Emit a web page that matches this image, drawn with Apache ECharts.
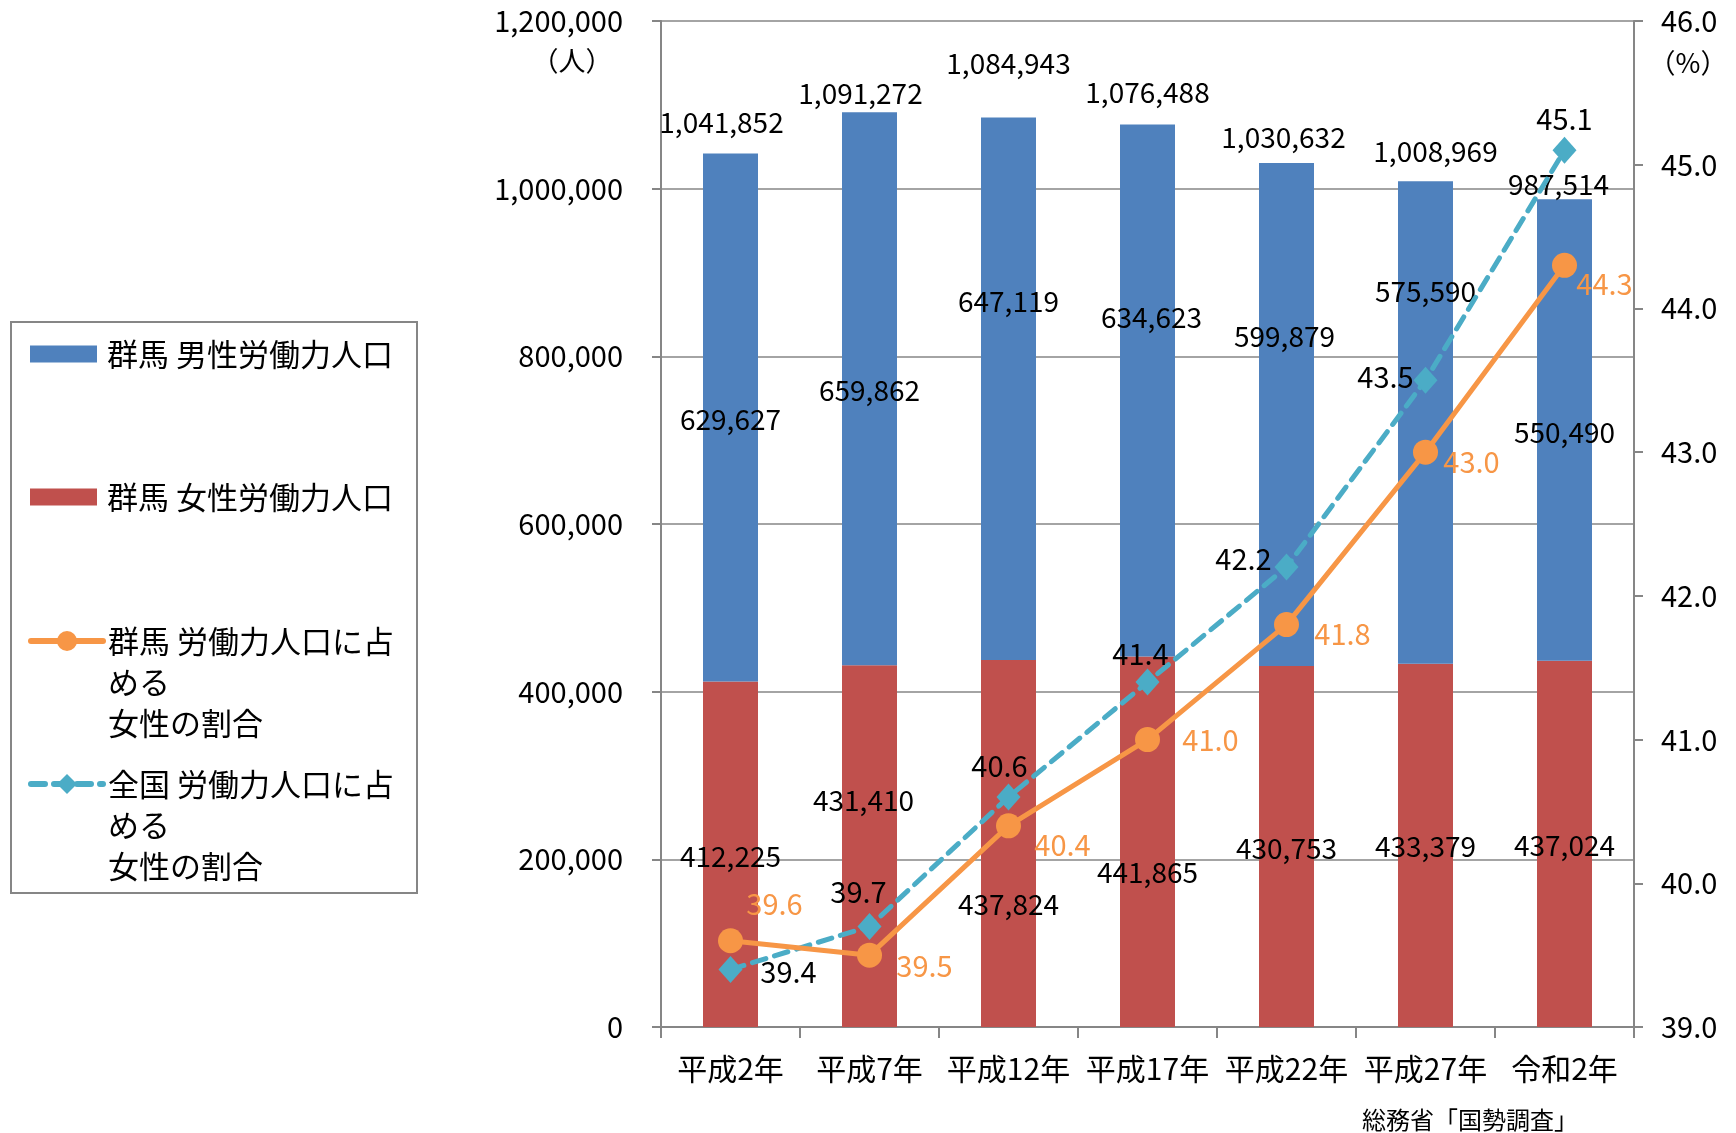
<!DOCTYPE html>
<html>
<head>
<meta charset="utf-8">
<title>群馬 労働力人口</title>
<script src="https://cdn.jsdelivr.net/npm/echarts@6/dist/echarts.min.js"></script>
<style>
    html, body {margin: 0; padding: 0; background: #fff;}
    #main {width: 1736px; height: 1133px;}
</style>
</head>
<body>
<div id="main"></div>
<script>
// データ（総務省「国勢調査」）
let years = ['平成2年', '平成7年', '平成12年', '平成17年', '平成22年', '平成27年', '令和2年'];
let maleData = [629627, 659862, 647119, 634623, 599879, 575590, 550490];
let femaleData = [412225, 431410, 437824, 441865, 430753, 433379, 437024];
let totalData = [1041852, 1091272, 1084943, 1076488, 1030632, 1008969, 987514];
let gunmaRate = [39.6, 39.5, 40.4, 41.0, 41.8, 43.0, 44.3];
let zenkokuRate = [39.4, 39.7, 40.6, 41.4, 42.2, 43.5, 45.1];
let leftTicks = [0, 200000, 400000, 600000, 800000, 1000000, 1200000];
let rightTicks = [39.0, 40.0, 41.0, 42.0, 43.0, 44.0, 45.0, 46.0];

// ラベル位置の微調整（px）
let maleLabelOffset = [[0, 2], [0, 2], [0, -87], [4, -73], [-2, -78], [0, -131], [0, 2]];
let femaleLabelOffset = [[0, 2], [-6, -46], [0, 61], [0, 31], [0, 2], [0, 1], [0, 2]];
let totalLabelOffset = [[-9, -31], [-9, -19], [0, -54], [0, -32], [-3, -26], [10, -30], [-6, -15]];
let gunmaLabelOffset = [[44, -37], [55, 11], [54, 19], [63, 0], [56, 9], [46, 10], [40, 19]];
let zenkokuLabelOffset = [[58, 2], [-11, -34], [-9, -31], [-7, -28], [-43, -8], [-40, -3], [0, -31]];

const FONT = '"Noto Sans CJK JP", "Noto Sans", sans-serif';
const BLUE = '#4F81BD', RED = '#C0504D', ORANGE = '#F79646', TEAL = '#4BACC6', GRAY = '#868686';

const nameMale = '群馬 男性労働力人口';
const nameFemale = '群馬 女性労働力人口';
const nameGunma = '群馬 労働力人口に占める女性の割合';
const nameZenkoku = '全国 労働力人口に占める女性の割合';

function comma(v) {
    return String(v).replace(/\B(?=(\d{3})+(?!\d))/g, ',');
}

function withOffset(arr, offsets) {
    return arr.map(function (v, i) {
        return {value: v, label: {offset: offsets[i]}};
    });
}

// 凡例：アイコンを1行目に合わせるため先頭に空行を入れる
function legendText(name) {
    if (name === nameGunma) return '\n\n群馬 労働力人口に占\nめる\n女性の割合';
    if (name === nameZenkoku) return '\n\n全国 労働力人口に占\nめる\n女性の割合';
    return name;
}

function makeLegend(name, top, isLine) {
    let lg = {
        data: [name],
        left: isLine ? 28 : 30,
        top: top,
        orient: 'vertical',
        padding: 0,
        itemWidth: isLine ? 72 : 67,
        itemHeight: isLine ? 25 : 17,
        selectedMode: false,
        formatter: legendText,
        textStyle: {
            fontFamily: FONT, fontSize: 31, lineHeight: 41, color: '#000',
            padding: [0, 0, 0, isLine ? 0 : 5]
        }
    };
    if (isLine) {
        lg.lineStyle = {width: 6, cap: 'round'};
    } else {
        lg.icon = 'rect';
    }
    return lg;
}

let myChart = echarts.init(document.getElementById('main'));

let valueLabel = {show: true, position: 'inside', fontSize: 28, color: '#000', fontFamily: FONT,
    formatter: function (p) { return comma(p.value); }};

let option = {
    backgroundColor: '#fff',
    animation: false,
    textStyle: {fontFamily: FONT},
    grid: {left: 661, right: 102, top: 21, bottom: 106, outerBoundsMode: 'none'},
    legend: [
        makeLegend(nameMale, 333.5, false),
        makeLegend(nameFemale, 476.5, false),
        makeLegend(nameGunma, 538.5, true),
        makeLegend(nameZenkoku, 681.5, true)
    ],
    graphic: [
        {type: 'rect', shape: {x: 11, y: 322, width: 406, height: 571},
            style: {fill: 'none', stroke: GRAY, lineWidth: 2}},
        {type: 'text', x: 572, y: 61,
            style: {text: '（人）', font: '27px ' + FONT, fill: '#000', align: 'center', verticalAlign: 'middle'}},
        {type: 'text', x: 1688, y: 63,
            style: {text: '（%）', font: '27px ' + FONT, fill: '#000', align: 'center', verticalAlign: 'middle'}},
        {type: 'text', x: 1362, y: 1120,
            style: {text: '総務省「国勢調査」', font: '24px ' + FONT, fill: '#000', align: 'left', verticalAlign: 'middle'}}
    ],
    xAxis: {
        type: 'category',
        data: years,
        boundaryGap: true,
        axisLine: {lineStyle: {color: GRAY, width: 2}},
        axisTick: {show: true, interval: 0, length: 11, lineStyle: {color: GRAY, width: 2}},
        axisLabel: {interval: 0, margin: 27, fontSize: 30, color: '#000', fontFamily: FONT},
        splitLine: {show: false}
    },
    yAxis: [
        {
            type: 'value',
            min: leftTicks[0],
            max: leftTicks[leftTicks.length - 1],
            interval: leftTicks[1] - leftTicks[0],
            axisLine: {show: true, lineStyle: {color: GRAY, width: 2}},
            axisTick: {show: true, length: 9, lineStyle: {color: GRAY, width: 2}},
            axisLabel: {margin: 38, fontSize: 29, color: '#000', fontFamily: FONT, formatter: comma},
            splitLine: {show: true, lineStyle: {color: GRAY, width: 1.5}}
        },
        {
            type: 'value',
            min: rightTicks[0],
            max: rightTicks[rightTicks.length - 1],
            interval: rightTicks[1] - rightTicks[0],
            position: 'right',
            axisLine: {show: true, lineStyle: {color: GRAY, width: 2}},
            axisTick: {show: true, length: 9, lineStyle: {color: GRAY, width: 2}},
            axisLabel: {margin: 27, fontSize: 29, color: '#000', fontFamily: FONT,
                formatter: function (v) { return v.toFixed(1); }},
            splitLine: {show: false}
        }
    ],
    series: [
        {
            name: nameFemale,
            type: 'bar',
            stack: 'total',
            barWidth: 55,
            itemStyle: {color: RED},
            label: valueLabel,
            data: withOffset(femaleData, femaleLabelOffset)
        },
        {
            name: nameMale,
            type: 'bar',
            stack: 'total',
            barWidth: 55,
            itemStyle: {color: BLUE},
            label: valueLabel,
            data: withOffset(maleData, maleLabelOffset)
        },
        {
            name: '合計',
            type: 'scatter',
            symbolSize: 1,
            itemStyle: {color: 'transparent', opacity: 1},
            label: valueLabel,
            z: 5,
            data: withOffset(totalData, totalLabelOffset)
        },
        {
            name: nameZenkoku,
            type: 'line',
            yAxisIndex: 1,
            symbol: 'diamond',
            symbolSize: [24, 27],
            lineStyle: {color: TEAL, width: 5, type: [14, 9], cap: 'round'},
            itemStyle: {color: TEAL},
            label: {show: true, position: 'inside', fontSize: 29, color: '#000', fontFamily: FONT,
                formatter: function (p) { return p.value.toFixed(1); }},
            z: 6,
            data: withOffset(zenkokuRate, zenkokuLabelOffset)
        },
        {
            name: nameGunma,
            type: 'line',
            yAxisIndex: 1,
            symbol: 'circle',
            symbolSize: 25,
            lineStyle: {color: ORANGE, width: 5},
            itemStyle: {color: ORANGE},
            label: {show: true, position: 'inside', fontSize: 29, color: ORANGE, fontFamily: FONT,
                formatter: function (p) { return p.value.toFixed(1); }},
            z: 7,
            data: withOffset(gunmaRate, gunmaLabelOffset)
        }
    ]
};

myChart.setOption(option);
</script>
</body>
</html>
